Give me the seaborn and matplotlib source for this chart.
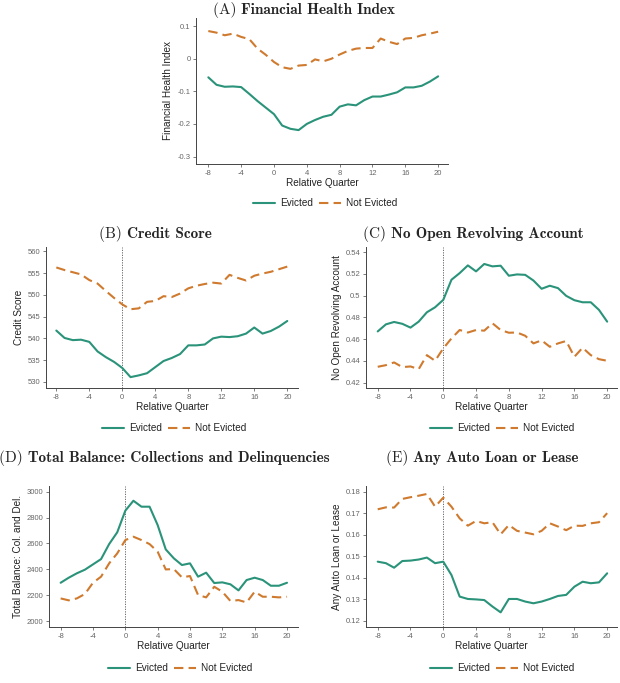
import numpy as np
import pandas as pd
import matplotlib
matplotlib.use("Agg")
import matplotlib.pyplot as plt
from matplotlib.lines import Line2D
import seaborn as sns

sns.set_style("white")
plt.rcParams['font.family'] = ['Liberation Sans', 'DejaVu Sans']
plt.rcParams['axes.unicode_minus'] = False

quarters = list(range(-8, 21))
groups = ["Evicted", "Not Evicted"]

fhi_evicted = [-0.057, -0.080, -0.086, -0.085, -0.087, -0.108, -0.130, -0.150, -0.170, -0.205,
               -0.215, -0.219, -0.200, -0.188, -0.178, -0.172, -0.147, -0.140, -0.143, -0.127,
               -0.116, -0.116, -0.110, -0.103, -0.088, -0.088, -0.083, -0.070, -0.054]
fhi_not = [0.085, 0.080, 0.072, 0.077, 0.067, 0.060, 0.031, 0.012, -0.010, -0.026,
           -0.031, -0.021, -0.019, -0.002, -0.008, 0.000, 0.013, 0.024, 0.031, 0.033,
           0.033, 0.062, 0.052, 0.045, 0.062, 0.064, 0.072, 0.077, 0.083]

cs_evicted = [541.8, 540.1, 539.6, 539.7, 539.2, 537.0, 535.7, 534.6, 533.2, 531.1,
              531.5, 532.0, 533.4, 534.8, 535.5, 536.4, 538.4, 538.4, 538.6, 540.0,
              540.4, 540.3, 540.5, 541.1, 542.5, 541.1, 541.7, 542.7, 544.0]
cs_not = [556.3, 555.7, 555.2, 554.7, 553.4, 552.6, 550.9, 549.3, 547.8, 546.7,
          546.9, 548.4, 548.6, 549.7, 549.5, 550.3, 551.5, 552.1, 552.5, 552.8,
          552.6, 554.6, 553.9, 553.3, 554.4, 554.9, 555.3, 555.9, 556.5]

norev_evicted = [0.4670, 0.4735, 0.4757, 0.4740, 0.4705, 0.4760, 0.4846, 0.4892, 0.4960, 0.5145,
                 0.5206, 0.5277, 0.5222, 0.5290, 0.5268, 0.5274, 0.5182, 0.5194, 0.5190, 0.5138,
                 0.5062, 0.5090, 0.5068, 0.4997, 0.4957, 0.4938, 0.4938, 0.4868, 0.4760]
norev_not = [0.4345, 0.4360, 0.4385, 0.4342, 0.4348, 0.4323, 0.4452, 0.4400, 0.4514, 0.4606,
             0.4683, 0.4660, 0.4683, 0.4677, 0.4745, 0.4683, 0.4658, 0.4660, 0.4630, 0.4560,
             0.4588, 0.4529, 0.4560, 0.4582, 0.4437, 0.4520, 0.4452, 0.4415, 0.4400]

bal_evicted = [2296, 2335, 2369, 2397, 2438, 2479, 2595, 2686, 2853, 2930,
               2884, 2884, 2742, 2554, 2485, 2433, 2446, 2343, 2374, 2294,
               2299, 2284, 2237, 2317, 2335, 2317, 2273, 2273, 2296]
bal_not = [2175, 2160, 2175, 2209, 2296, 2343, 2446, 2523, 2626, 2652,
           2626, 2595, 2536, 2399, 2402, 2338, 2348, 2201, 2183, 2265,
           2227, 2155, 2162, 2144, 2227, 2188, 2188, 2183, 2188]

auto_evicted = [0.1475, 0.1468, 0.1447, 0.1478, 0.1480, 0.1485, 0.1494, 0.1468, 0.1475, 0.1413,
                0.1313, 0.1302, 0.1300, 0.1297, 0.1267, 0.1240, 0.1302, 0.1302, 0.1290, 0.1282,
                0.1290, 0.1302, 0.1316, 0.1321, 0.1359, 0.1382, 0.1375, 0.1379, 0.1421]
auto_not = [0.1718, 0.1727, 0.1726, 0.1766, 0.1774, 0.1781, 0.1789, 0.1730, 0.1772, 0.1730,
            0.1676, 0.1642, 0.1664, 0.1653, 0.1658, 0.1602, 0.1645, 0.1618, 0.1610, 0.1602,
            0.1618, 0.1653, 0.1638, 0.1621, 0.1642, 0.1641, 0.1653, 0.1658, 0.1700]

x_ticks = [-8, -4, 0, 4, 8, 12, 16, 20]
x_ticklabels = ["-8", "-4", "0", "4", "8", "12", "16", "20"]

fhi_ticks = [-0.3, -0.2, -0.1, 0.0, 0.1]
fhi_labels = ["-0.3", "-0.2", "-0.1", "0", "0.1"]
cs_ticks = [530, 535, 540, 545, 550, 555, 560]
cs_labels = ["530", "535", "540", "545", "550", "555", "560"]
norev_ticks = [0.42, 0.44, 0.46, 0.48, 0.50, 0.52, 0.54]
norev_labels = ["0.42", "0.44", "0.46", "0.48", "0.5", "0.52", "0.54"]
bal_ticks = [2000, 2200, 2400, 2600, 2800, 3000]
bal_labels = ["2000", "2200", "2400", "2600", "2800", "3000"]
auto_ticks = [0.12, 0.13, 0.14, 0.15, 0.16, 0.17, 0.18]
auto_labels = ["0.12", "0.13", "0.14", "0.15", "0.16", "0.17", "0.18"]

panels = [
    dict(tag="(A)", title="Financial Health Index", ylabel="Financial Health Index",
         ev=fhi_evicted, ne=fhi_not, yt=fhi_ticks, yl=fhi_labels, ylim=(-0.323, 0.125),
         xlim=(-9.5, 21.2), pos=[196, 18, 448, 164], vline=False, tx=304, ty=10, lx=325, ly=203),
    dict(tag="(B)", title="Credit Score", ylabel="Credit Score",
         ev=cs_evicted, ne=cs_not, yt=cs_ticks, yl=cs_labels, ylim=(528.6, 561.0),
         xlim=(-9.25, 21.3), pos=[46, 247, 298, 388], vline=True, tx=155, ty=234, lx=174, ly=428),
    dict(tag="(C)", title="No Open Revolving Account", ylabel="No Open Revolving Account",
         ev=norev_evicted, ne=norev_not, yt=norev_ticks, yl=norev_labels, ylim=(0.415, 0.5446),
         xlim=(-9.43, 21.2), pos=[366, 247, 617, 388], vline=True, tx=473, ty=234, lx=502, ly=428),
    dict(tag="(D)", title="Total Balance: Collections and Delinquencies", ylabel="Total Balance: Col. and Del.",
         ev=bal_evicted, ne=bal_not, yt=bal_ticks, yl=bal_labels, ylim=(1954, 3044),
         xlim=(-9.44, 21.36), pos=[49, 486, 298, 627], vline=True, tx=164, ty=458, lx=180, ly=668),
    dict(tag="(E)", title="Any Auto Loan or Lease", ylabel="Any Auto Loan or Lease",
         ev=auto_evicted, ne=auto_not, yt=auto_ticks, yl=auto_labels, ylim=(0.1172, 0.1826),
         xlim=(-9.43, 21.2), pos=[366, 486, 617, 627], vline=True, tx=482, ty=458, lx=502, ly=668),
]

W, H = 620, 683
fig = plt.figure(figsize=(W / 100, H / 100), dpi=100)
palette = {"Evicted": "#2a937a", "Not Evicted": "#cf7a2e"}
dash_pat = (4.5, 2.5)
dashes = {"Evicted": "", "Not Evicted": dash_pat}
LW = 1.5

renderer = fig.canvas.get_renderer()

for p in panels:
    x0, y0, x1, y1 = p["pos"]
    ax = fig.add_axes([x0 / W, 1 - y1 / H, (x1 - x0) / W, (y1 - y0) / H])
    df = pd.DataFrame({
        "quarter": quarters * 2,
        "value": p["ev"] + p["ne"],
        "group": [groups[0]] * len(quarters) + [groups[1]] * len(quarters),
    })
    sns.lineplot(data=df, x="quarter", y="value", hue="group", style="group",
                 palette=palette, dashes=dashes, linewidth=LW, ax=ax, legend=False)
    if p["vline"]:
        ax.axvline(0, color="#555555", linestyle=(0, (1.5, 1.5)), linewidth=0.6, zorder=0)
    ax.set_xlim(*p["xlim"])
    ax.set_ylim(*p["ylim"])
    ax.set_xticks(x_ticks)
    ax.set_xticklabels(x_ticklabels)
    ax.set_yticks(p["yt"])
    ax.set_yticklabels(p["yl"])
    ax.set_xlabel("Relative Quarter", fontsize=7.2, labelpad=1, color="#222222")
    ax.set_ylabel(p["ylabel"], fontsize=7.2, labelpad=3, color="#222222")
    ax.tick_params(axis="both", which="both", labelsize=5.5, labelcolor="#666666",
                   length=2.5, width=0.6, color="#666666", pad=1.5, left=True, bottom=True)
    sns.despine(ax=ax)
    for s in ["left", "bottom"]:
        ax.spines[s].set_linewidth(0.7)
        ax.spines[s].set_color("#444444")

    handles = [Line2D([], [], color=palette["Evicted"], linewidth=LW),
               Line2D([], [], color=palette["Not Evicted"], linewidth=LW, linestyle=(0, dash_pat))]
    leg = fig.legend(handles, groups, loc="center", bbox_to_anchor=(p["lx"] / W, 1 - p["ly"] / H),
                     ncol=2, frameon=False, fontsize=7.2, handlelength=2.2, columnspacing=0.6,
                     handletextpad=0.5)
    for t in leg.get_texts():
        t.set_color("#222222")

    t1 = fig.text(0, 0, p["tag"] + " ", family="cmr10", fontsize=11, va="center")
    t2 = fig.text(0, 0, p["title"], family="cmb10", fontsize=11, va="center")
    w1 = t1.get_window_extent(renderer).width
    w2 = t2.get_window_extent(renderer).width
    start = p["tx"] - (w1 + w2) / 2
    t1.set_position((start / W, 1 - p["ty"] / H))
    t2.set_position(((start + w1) / W, 1 - p["ty"] / H))

fig.savefig("out.png", dpi=100)
